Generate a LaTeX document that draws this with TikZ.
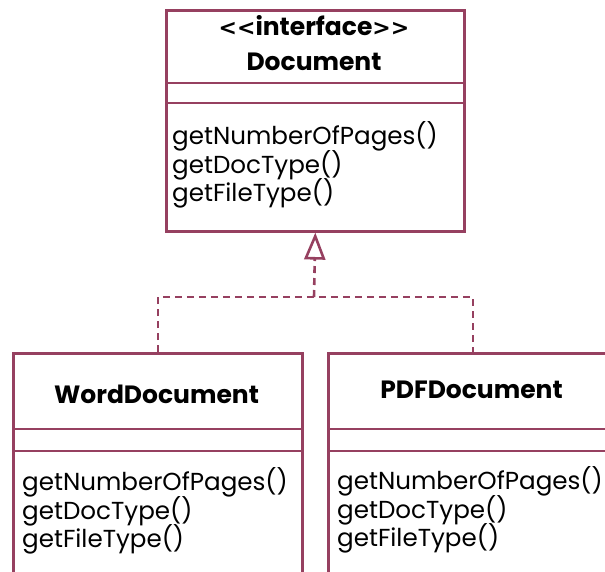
\documentclass[tikz,border=0pt]{standalone}
\usepackage{fontspec}
\setmainfont{Poppins}
\newfontfamily\anglefont{DejaVu Sans}
\usetikzlibrary{arrows.meta}
\definecolor{umlc}{RGB}{150,64,96}
\tikzset{
  umlbox/.style={draw=umlc, line width=2.6pt, fill=white, minimum width=#1, minimum height=300pt, anchor=north west, inner sep=0pt},
  sepline/.style={draw=umlc, line width=2.6pt},
  conn/.style={draw=umlc, line width=2.6pt, dash pattern=on 7pt off 5pt},
  hdr/.style={font=\fontsize{25}{30}\selectfont\bfseries, anchor=base, inner sep=0pt},
  meth/.style={font=\fontsize{24.6}{30}\selectfont, anchor=base west, inner sep=0pt},
}
\begin{document}
\begin{tikzpicture}[x=1pt,y=-1pt]
\useasboundingbox (0,0) rectangle (605,572);
\clip (0,0) rectangle (605,572);
% Document interface
\node[umlbox=298pt, minimum height=221pt] (doc) at (165,9) {};
\draw[sepline] (165,83) -- (463,83);
\draw[sepline] (165,103) -- (463,103);
\node[hdr] (dochdr1) at (314,36) {{\anglefont\fontsize{22}{26}\selectfont\bfseries<{}<}interface{\anglefont\fontsize{22}{26}\selectfont\bfseries>{}>}};
\node[hdr] (dochdr2) at (314,71) {Document};
\node[meth] (docm1) at (172,145) {getNumberOfPages()};
\node[meth] (docm2) at (172,174) {getDocType()};
\node[meth] (docm3) at (172,202) {getFileType()};
% WordDocument
\node[umlbox=289pt] (word) at (12,352) {};
\draw[sepline] (12,429) -- (301,429);
\draw[sepline] (12,451) -- (301,451);
\node[hdr] (wordhdr) at (156.5,403) {WordDocument};
\node[meth] (wordm1) at (22,490) {getNumberOfPages()};
\node[meth] (wordm2) at (22,519) {getDocType()};
\node[meth] (wordm3) at (22,547) {getFileType()};
% PDFDocument
\node[umlbox=289pt] (pdf) at (327,352) {};
\draw[sepline] (327,429) -- (616,429);
\draw[sepline] (327,451) -- (616,451);
\node[hdr] (pdfhdr) at (471.5,398) {PDFDocument};
\node[meth] (pdfm1) at (337,489) {getNumberOfPages()};
\node[meth] (pdfm2) at (337,518) {getDocType()};
\node[meth] (pdfm3) at (337,546) {getFileType()};
% connectors
\coordinate (j) at (314,297);
\draw[conn] (word.north) |- (j) -| (pdf.north);
\draw[conn, -{Triangle[open, length=27pt, width=21pt, line width=2.6pt]}] (j) -- (doc.south);
\end{tikzpicture}
\end{document}
